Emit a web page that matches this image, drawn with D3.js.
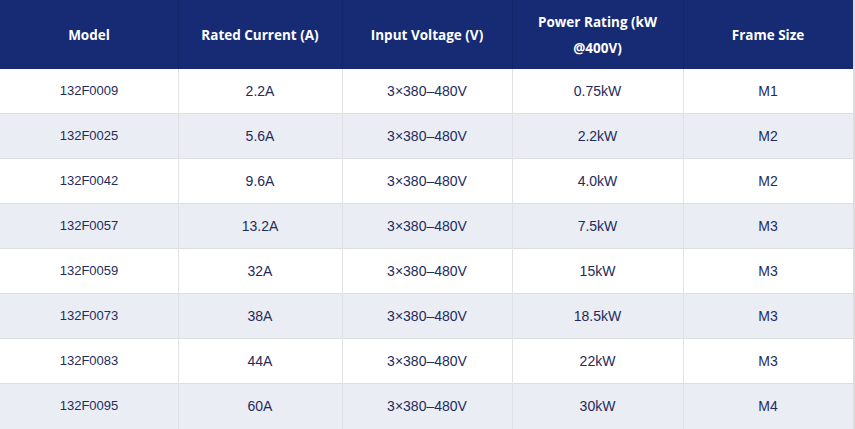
<!DOCTYPE html>
<html>
<head>
<meta charset="utf-8">
<script src="https://cdn.jsdelivr.net/npm/d3@7"></script>
<style>
	body{margin:0;background:#fff;}
	svg{display:block;}
</style>
</head>
<body>
<div id="table"></div>
<script>
let headers = [['Model'],['Rated Current (A)'],['Input Voltage (V)'],['Power Rating (kW','@400V)'],['Frame Size']]
let models = ['132F0009','132F0025','132F0042','132F0057','132F0059','132F0073','132F0083','132F0095']
let currents = ['2.2A','5.6A','9.6A','13.2A','32A','38A','44A','60A']
let voltages = ['3×380–480V','3×380–480V','3×380–480V','3×380–480V','3×380–480V','3×380–480V','3×380–480V','3×380–480V']
let powers = ['0.75kW','2.2kW','4.0kW','7.5kW','15kW','18.5kW','22kW','30kW']
let frames = ['M1','M2','M2','M3','M3','M3','M3','M4']

function drawTable(){
	let width = 855, height = 429
	let headH = 69
	let colEdges = [0,178,342,512,683,853]

	let svg = d3.select('#table').append('svg').attr('width',width).attr('height',height)

	let columns = [models,currents,voltages,powers,frames]
	let rows = d3.range(models.length)

	let y = d3.scaleBand().domain(rows).range([headH,height])
	let x = d3.scaleOrdinal().domain(d3.range(columns.length)).range(colEdges.slice(0,-1))
	let w = function(i){ return colEdges[i+1]-colEdges[i] }

	// header band
	svg.append('rect').attr('x',0).attr('y',0).attr('width',colEdges[5]).attr('height',headH).attr('fill','#162b74')

	// row stripes
	svg.selectAll('.stripe').data(rows).enter().append('rect')
		.attr('class','stripe')
		.attr('x',0).attr('y',d=>y(d))
		.attr('width',colEdges[5]).attr('height',y.bandwidth())
		.attr('fill',d=>d%2==0 ? '#ffffff' : '#ebedf4')

	// horizontal lines
	svg.selectAll('.hline').data(rows.slice(1)).enter().append('line')
		.attr('x1',0).attr('x2',colEdges[5])
		.attr('y1',d=>y(d)-0.5).attr('y2',d=>y(d)-0.5)
		.attr('stroke','#dcdee3')

	// vertical lines
	colEdges.slice(1,-1).forEach(function(cx){
		svg.append('line').attr('x1',cx+0.5).attr('x2',cx+0.5).attr('y1',0).attr('y2',headH)
			.attr('stroke','#13266a')
		svg.append('line').attr('x1',cx+0.5).attr('x2',cx+0.5).attr('y1',headH).attr('y2',height)
			.attr('stroke','#e0e2e6')
	})

	// right border
	svg.append('rect').attr('x',853).attr('y',0).attr('width',2).attr('height',height).attr('fill','#dcdcdc')

	// header text
	headers.forEach(function(lines,i){
		let cx = x(i)+w(i)/2
		let lh = 26
		let start = headH/2 - (lines.length-1)*lh/2
		lines.forEach(function(t,j){
			svg.append('text')
				.attr('x',cx).attr('y',start+j*lh)
				.attr('text-anchor','middle').attr('dominant-baseline','central')
				.attr('font-family','"Open Sans", sans-serif')
				.attr('font-weight',700)
				.attr('font-size','13.5px')
				.attr('fill','#ffffff')
				.text(t)
		})
	})

	// body text
	columns.forEach(function(col,i){
		svg.selectAll('.c'+i).data(col).enter().append('text')
			.attr('class','c'+i)
			.attr('x',x(i)+w(i)/2)
			.attr('y',(d,r)=>y(r)+y.bandwidth()/2-1)
			.attr('text-anchor','middle').attr('dominant-baseline','central')
			.attr('font-family','"Liberation Sans", Arial, sans-serif')
			.attr('font-size',i==0 ? '13px' : '14px')
			.attr('fill','#1e2b5c')
			.text(d=>d)
	})
}

drawTable()
</script>
</body>
</html>
